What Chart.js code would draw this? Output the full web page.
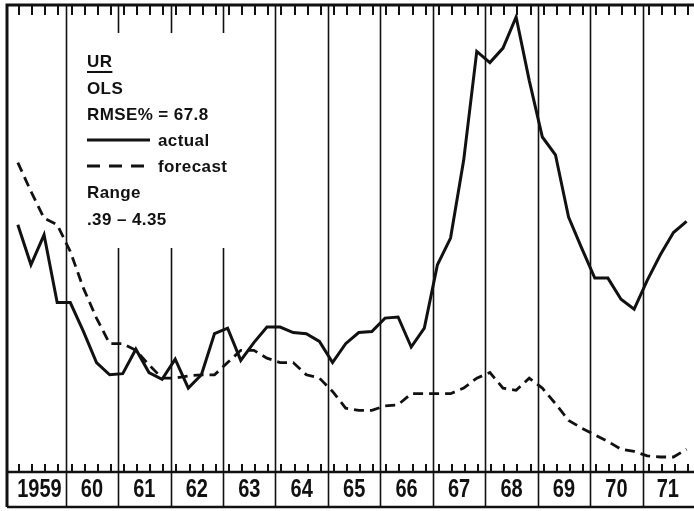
<!DOCTYPE html>
<html>
<head>
<title>UR OLS forecast</title>
<script src="https://cdn.jsdelivr.net/npm/chart.js"></script>
<style>
  body { margin: 0; background: #fff; }
  #wrap { width: 694px; height: 511px; }
</style>
<script>
// year boxes along the bottom (quarterly data, 1959 Q1 .. 1971 Q4)
const years = ['1959', '60', '61', '62', '63', '64', '65', '66', '67', '68', '69', '70', '71'];

const actual = [
  2.48, 2.12, 2.39, 1.78, 1.78, 1.52, 1.24, 1.13,
  1.14, 1.36, 1.15, 1.09, 1.27, 1.01, 1.13, 1.50,
  1.55, 1.26, 1.42, 1.56, 1.56, 1.51, 1.50, 1.43,
  1.24, 1.41, 1.51, 1.52, 1.64, 1.65, 1.38, 1.55,
  2.12, 2.36, 3.06, 4.04, 3.94, 4.07, 4.35, 3.78,
  3.27, 3.11, 2.55, 2.27, 2.00, 2.00, 1.81, 1.72,
  1.98, 2.21, 2.41, 2.51
];

const forecast = [
  3.04, 2.78, 2.54, 2.48, 2.24, 1.91, 1.64, 1.41,
  1.41, 1.35, 1.22, 1.10, 1.10, 1.12, 1.13, 1.13,
  1.24, 1.35, 1.35, 1.28, 1.24, 1.24, 1.13, 1.10,
  0.98, 0.83, 0.81, 0.81, 0.85, 0.86, 0.96, 0.96,
  0.96, 0.96, 1.01, 1.10, 1.15, 1.01, 0.99, 1.10,
  1.01, 0.87, 0.72, 0.65, 0.59, 0.53, 0.46, 0.44,
  0.40, 0.39, 0.39, 0.46
];

const legendLines = ['UR', 'OLS', 'RMSE% = 67.8', 'actual', 'forecast', 'Range', '.39 \u2013 4.35'];

// quarter index where each year begins
function yearStart(k) {
  return 4 * k - 0.35;
}

const INK = '#111';

const framePlugin = {
  id: 'frame',
  beforeDatasetsDraw(chart) {
    const ctx = chart.ctx;
    const a = chart.chartArea;
    const xs = chart.scales.x;
    const rowBottom = 507;
    ctx.save();
    ctx.strokeStyle = INK;
    ctx.lineCap = 'butt';

    // year boundaries (the ones behind the legend are broken)
    ctx.lineWidth = 1.6;
    for (let k = 1; k < years.length; k++) {
      const px = Math.round(xs.getPixelForValue(yearStart(k))) + 0.5;
      ctx.beginPath();
      if (px > 80 && px < 240) {
        ctx.moveTo(px, a.top);
        ctx.lineTo(px, 33);
        ctx.moveTo(px, 248);
        ctx.lineTo(px, rowBottom);
      } else {
        ctx.moveTo(px, a.top);
        ctx.lineTo(px, rowBottom);
      }
      ctx.stroke();
    }

    // quarter ticks top and bottom
    ctx.lineWidth = 2;
    for (let i = 0; i < actual.length; i++) {
      const px = Math.round(xs.getPixelForValue(i + 0.1));
      ctx.beginPath();
      ctx.moveTo(px, a.top);
      ctx.lineTo(px, a.top + 10);
      ctx.moveTo(px, a.bottom - 8);
      ctx.lineTo(px, a.bottom);
      ctx.stroke();
    }

    // outer frame
    ctx.lineWidth = 3;
    ctx.beginPath();
    ctx.moveTo(a.left - 1, rowBottom);
    ctx.lineTo(a.left - 1, a.top);
    ctx.lineTo(chart.width, a.top);
    ctx.stroke();
    ctx.lineWidth = 2.5;
    ctx.beginPath();
    ctx.moveTo(a.left - 1, a.bottom);
    ctx.lineTo(chart.width, a.bottom);
    ctx.moveTo(a.left - 1, rowBottom);
    ctx.lineTo(chart.width, rowBottom);
    ctx.stroke();
    ctx.restore();
  },
  afterDraw(chart) {
    const ctx = chart.ctx;
    const a = chart.chartArea;
    const xs = chart.scales.x;
    ctx.save();
    ctx.fillStyle = INK;
    ctx.strokeStyle = INK;

    // year labels, a bit condensed like the original lettering
    ctx.font = 'bold 20px "Liberation Sans", Arial, sans-serif';
    ctx.textAlign = 'center';
    ctx.textBaseline = 'middle';
    for (let k = 0; k < years.length; k++) {
      const l = Math.max(a.left, xs.getPixelForValue(yearStart(k)));
      const r = Math.min(a.right, xs.getPixelForValue(yearStart(k + 1)));
      ctx.save();
      ctx.translate((l + r) / 2, 490);
      ctx.scale(1, 1.25);
      ctx.fillText(years[k], 0, 0);
      ctx.restore();
    }

    // legend block
    const x0 = 87;
    const base = [67, 94, 120, 146, 172, 198, 225];
    ctx.font = 'bold 17px "Liberation Sans", Arial, sans-serif';
    ctx.textAlign = 'left';
    ctx.textBaseline = 'alphabetic';
    ctx.letterSpacing = '0.4px';
    legendLines.forEach((t, n) => {
      let tx = x0;
      if (n === 3 || n === 4) {
        tx = 158;
        ctx.lineWidth = 3;
        ctx.setLineDash(n === 4 ? [13, 9] : []);
        ctx.beginPath();
        ctx.moveTo(x0, base[n] - 6);
        ctx.lineTo(150, base[n] - 6);
        ctx.stroke();
        ctx.setLineDash([]);
      }
      ctx.fillText(t, tx, base[n]);
      if (n === 0) {
        const w = ctx.measureText(t).width;
        ctx.lineWidth = 2;
        ctx.beginPath();
        ctx.moveTo(x0, base[0] + 5);
        ctx.lineTo(x0 + w, base[0] + 5);
        ctx.stroke();
      }
    });
    ctx.restore();
  }
};

document.addEventListener('DOMContentLoaded', function () {
  const ctx = document.getElementById('urChart').getContext('2d');
  new Chart(ctx, {
    type: 'line',
    data: {
      datasets: [
        {
          label: 'actual',
          data: actual.map((v, i) => ({ x: i, y: v })),
          borderColor: INK,
          borderWidth: 3,
          pointRadius: 0,
          tension: 0,
          fill: false
        },
        {
          label: 'forecast',
          data: forecast.map((v, i) => ({ x: i, y: v })),
          borderColor: INK,
          borderWidth: 2.8,
          borderDash: [10, 6],
          pointRadius: 0,
          tension: 0,
          fill: false
        }
      ]
    },
    options: {
      responsive: true,
      maintainAspectRatio: false,
      animation: false,
      layout: { padding: { left: 8, top: 5, right: 1, bottom: 39 } },
      scales: {
        x: { type: 'linear', display: false, min: -0.75, max: 51.49 },
        y: { display: false, min: 0.255, max: 4.458 }
      },
      plugins: {
        legend: { display: false },
        tooltip: { enabled: false }
      }
    },
    plugins: [framePlugin]
  });
});
</script>
</head>
<body>
<div id="wrap"><canvas id="urChart"></canvas></div>
</body>
</html>
